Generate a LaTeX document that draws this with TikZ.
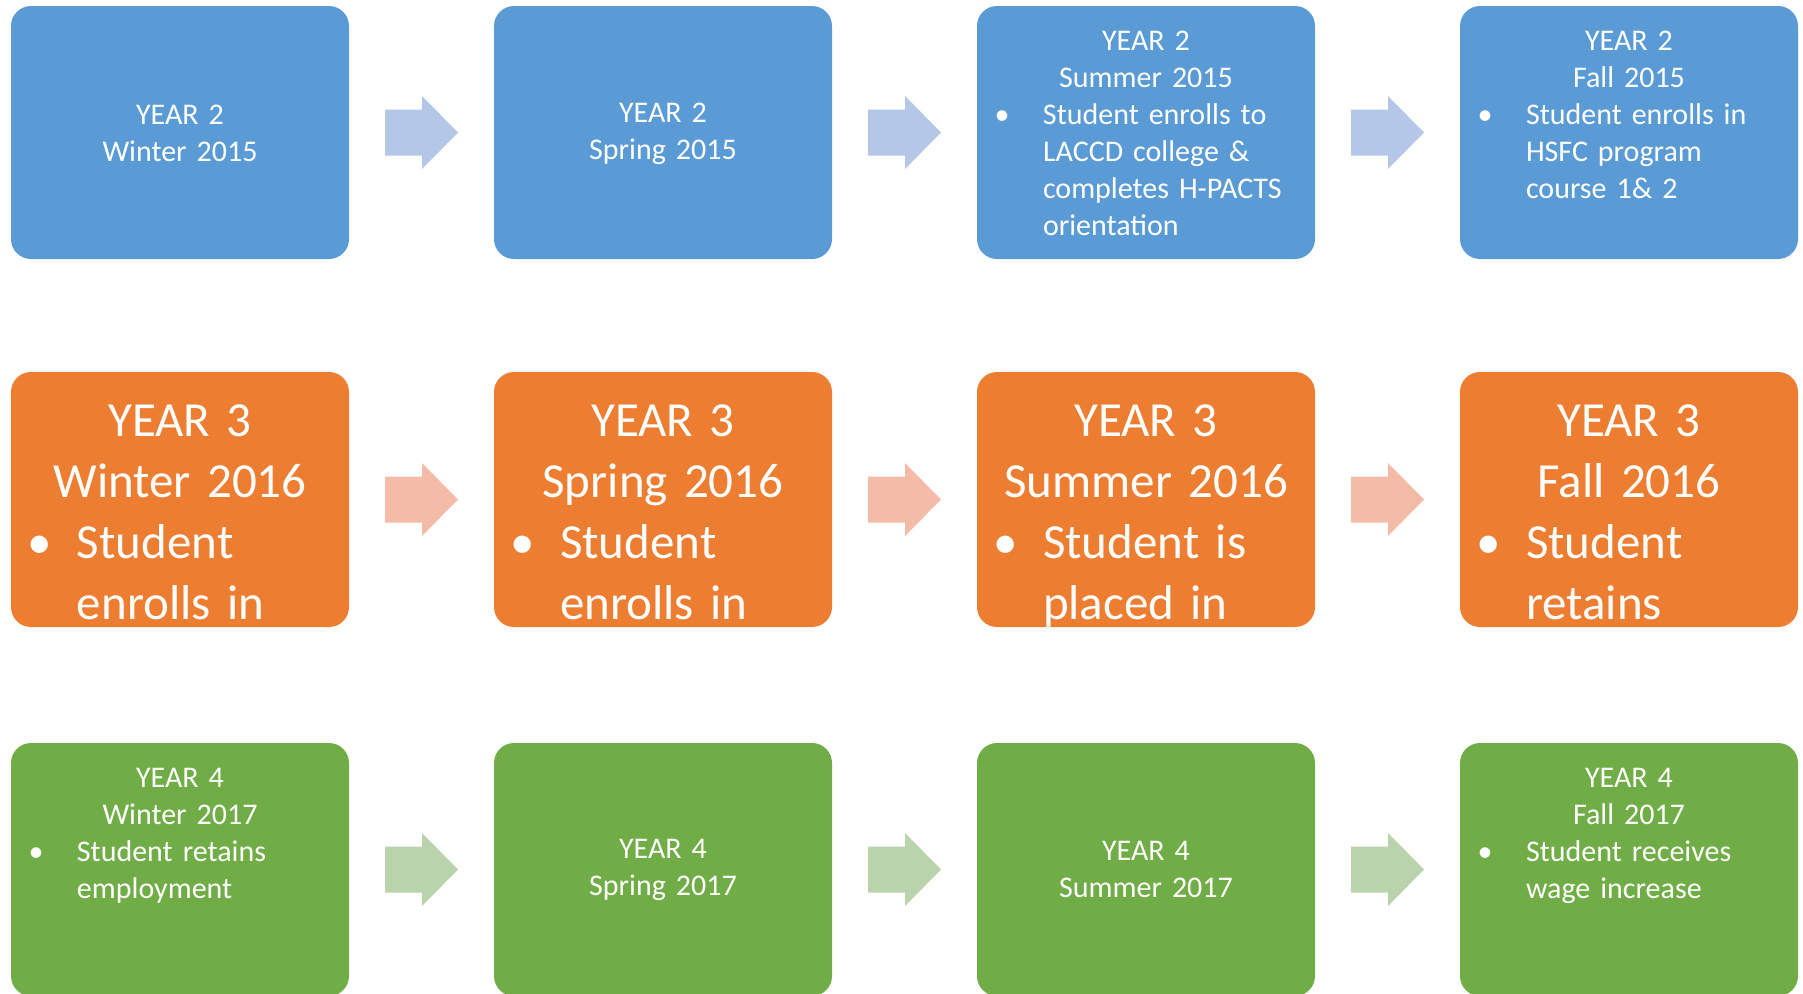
\documentclass[tikz,border=0pt]{standalone}
\usepackage{fontspec}
\setmainfont{Carlito}
\usepackage{tikz}
\usetikzlibrary{calc}

\definecolor{yrtwo}{HTML}{5B9BD5}
\definecolor{yrtwoarr}{HTML}{B4C7E7}
\definecolor{yrthree}{HTML}{ED7D31}
\definecolor{yrthreearr}{HTML}{F4BBA8}
\definecolor{yrfour}{HTML}{70AD47}
\definecolor{yrfourarr}{HTML}{B9D3AC}

% bullet paragraph inside a box: text at 66pt, bullet centred to the left
\newcommand{\itm}[2][82pt]{\par\raggedright\leftskip=66pt\relax
  \leavevmode\llap{\makebox[#1]{\textbullet}}#2\par}

% block arrow half way between two boxes
\newcommand{\steparrow}[3]{%
  \fill[#3] ($(#1.east)!0.5!(#2.west)$) ++(-36.5,-23) -- ++(37,0) -- ++(0,-13.5)
    -- ++(36,36.5) -- ++(-36,36.5) -- ++(0,-13.5) -- ++(-37,0) -- cycle;}

\begin{document}
\begin{tikzpicture}[x=1pt, y=-1pt,
    box/.style={rounded corners=20pt, minimum width=338pt, minimum height=253pt, inner sep=0pt},
    txt/.style={text=white, text width=338pt, inner sep=0pt, font=\fontsize{30}{37}\selectfont},
    bigtxt/.style={txt, font=\fontsize{49}{61}\selectfont}]
  \useasboundingbox (0,0) rectangle (1803,993);
  \clip (0,0) rectangle (1803,993);

  % Year 2 boxes
  \node[box, fill=yrtwo] (w15) at (180, 132.5) {};
  \node[box, fill=yrtwo] (sp15) at (663, 132.5) {};
  \node[box, fill=yrtwo] (su15) at (1146, 132.5) {};
  \node[box, fill=yrtwo] (f15) at (1629, 132.5) {};

  \node[txt] (w15t) at ([yshift=-1pt]w15) {\centering YEAR 2\\Winter 2015\par};
  \node[txt] (sp15t) at ([yshift=-1pt]sp15) {\centering YEAR 2\\Spring 2015\par};
  \node[txt, anchor=base] (su15t) at ([yshift=-45pt]su15.north)
    {\centering YEAR 2\\Summer 2015\par
     \itm{Student enrolls to\\LACCD college \&\\completes H-PACTS\\orientation}};
  \node[txt, anchor=base] (f15t) at ([yshift=-45pt]f15.north)
    {\centering YEAR 2\\Fall 2015\par
     \itm{Student enrolls in\\HSFC program\\course 1\& 2}};

  % Year 3 boxes
  \node[box, fill=yrthree, minimum height=255pt] (w16) at (180, 499.5) {};
  \node[box, fill=yrthree, minimum height=255pt] (sp16) at (663, 499.5) {};
  \node[box, fill=yrthree, minimum height=255pt] (su16) at (1146, 499.5) {};
  \node[box, fill=yrthree, minimum height=255pt] (f16) at (1629, 499.5) {};

  \node[bigtxt, anchor=base] (w16t) at ([yshift=-65pt]w16.north)
    {\centering YEAR 3\\Winter 2016\par \itm[74pt]{Student\\enrolls in}};
  \node[bigtxt, anchor=base] (sp16t) at ([yshift=-65pt]sp16.north)
    {\centering YEAR 3\\Spring 2016\par \itm[74pt]{Student\\enrolls in}};
  \node[bigtxt, anchor=base] (su16t) at ([yshift=-65pt]su16.north)
    {\centering YEAR 3\\Summer 2016\par \itm[74pt]{Student is\\placed in}};
  \node[bigtxt, anchor=base] (f16t) at ([yshift=-65pt]f16.north)
    {\centering YEAR 3\\Fall 2016\par \itm[74pt]{Student\\retains}};

  % Year 4 boxes
  \node[box, fill=yrfour] (w17) at (180, 869.5) {};
  \node[box, fill=yrfour] (sp17) at (663, 869.5) {};
  \node[box, fill=yrfour] (su17) at (1146, 869.5) {};
  \node[box, fill=yrfour] (f17) at (1629, 869.5) {};

  \node[txt, anchor=base] (w17t) at ([yshift=-45pt]w17.north)
    {\centering YEAR 4\\Winter 2017\par \itm{Student retains\\employment}};
  \node[txt] (sp17t) at (sp17) {\centering YEAR 4\\Spring 2017\par};
  \node[txt] (su17t) at (su17) {\centering YEAR 4\\Summer 2017\par};
  \node[txt, anchor=base] (f17t) at ([yshift=-45pt]f17.north)
    {\centering YEAR 4\\Fall 2017\par \itm{Student receives\\wage increase}};

  % Arrows between boxes
  \steparrow{w15}{sp15}{yrtwoarr}
  \steparrow{sp15}{su15}{yrtwoarr}
  \steparrow{su15}{f15}{yrtwoarr}
  \steparrow{w16}{sp16}{yrthreearr}
  \steparrow{sp16}{su16}{yrthreearr}
  \steparrow{su16}{f16}{yrthreearr}
  \steparrow{w17}{sp17}{yrfourarr}
  \steparrow{sp17}{su17}{yrfourarr}
  \steparrow{su17}{f17}{yrfourarr}
\end{tikzpicture}
\end{document}
